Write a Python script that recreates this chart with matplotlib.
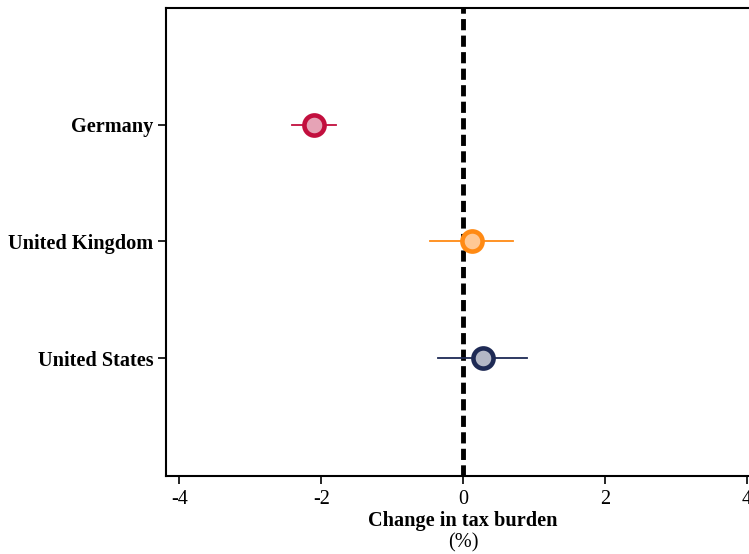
import matplotlib
matplotlib.use("Agg")
import matplotlib.pyplot as plt

countries = ["Germany", "United Kingdom", "United States"]
estimates = [-2.10, 0.13, 0.28]
ci_low = [-2.41, -0.47, -0.35]
ci_high = [-1.79, 0.71, 0.90]
edge_colors = ["#c20f3e", "#ff8a14", "#1e2a55"]
face_colors = ["#e6a3b6", "#ffc894", "#b3b7c6"]
xticks = [-4, -2, 0, 2, 4]

plt.rcParams['font.family'] = ['Liberation Serif', 'DejaVu Serif']
FS = 14.6

fig = plt.figure(figsize=(7.49, 5.54), dpi=100)
ax = fig.add_axes([0.2216, 0.1408, 0.794, 0.8448])

ypos = [1, 2, 3]
ax.axvline(0, color="black", lw=3.5, ls=(0, (2.3, 1.1)), zorder=1)
for y, e, lo, hi, ec, fc in zip(ypos, estimates, ci_low, ci_high, edge_colors, face_colors):
    ax.plot([lo, hi], [y, y], color=ec, lw=1.3, zorder=2)
    ax.plot([e], [y], marker="o", ms=14.5, mfc=fc, mec=ec, mew=3.3, zorder=3)

ax.set_xlim(-4.19, 4.2)
ax.set_ylim(4.01, 0)
ax.set_yticks(ypos)
ax.set_yticklabels(countries, fontsize=FS, fontweight="bold")
ax.set_xticks(xticks)
ax.set_xticklabels([str(t) for t in xticks], fontsize=FS)
ax.tick_params(axis="y", length=6, width=1.2, pad=3)
ax.tick_params(axis="x", length=6, width=1.2, pad=4)
for s in ax.spines.values():
    s.set_linewidth(1.5)

fig.text(463/749, 1 - 521/554, "Change in tax burden", ha="center", va="center",
         fontsize=FS, fontweight="bold")
fig.text(463/749, 1 - 543/554, "(%)", ha="center", va="center", fontsize=FS)

fig.savefig("out.png", dpi=100)
